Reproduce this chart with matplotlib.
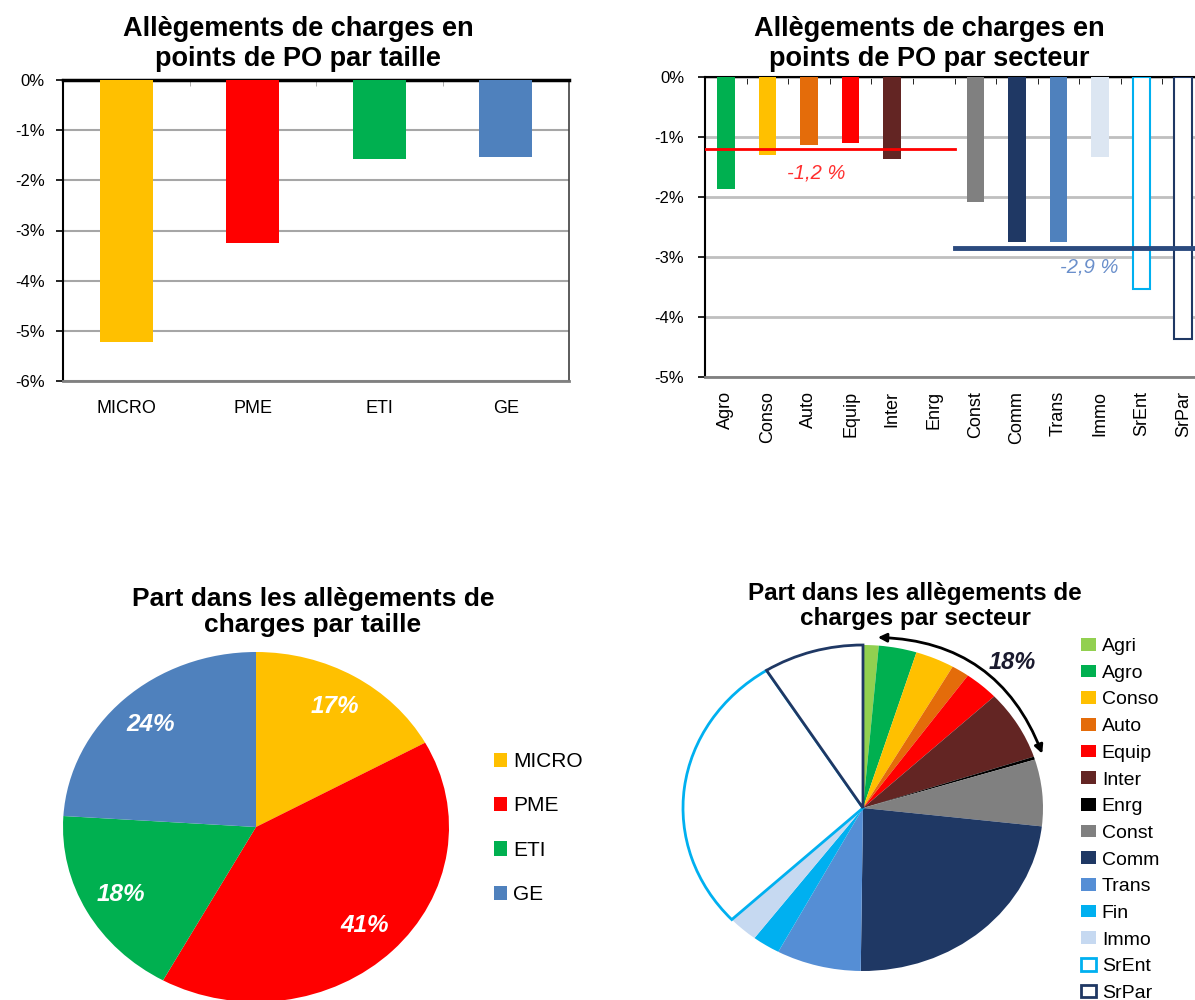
import numpy as np
import matplotlib.pyplot as plt

plt.rcParams['font.family'] = ['Liberation Sans', 'DejaVu Sans']

# --- donnees ---
tailles = ['MICRO', 'PME', 'ETI', 'GE']
points_taille = [-5.22, -3.24, -1.58, -1.53]
part_taille = [17, 41, 18, 24]
couleurs_taille = ['#FFC000', '#FF0000', '#00B050', '#4F81BD']

secteurs_barres = ['Agro', 'Conso', 'Auto', 'Equip', 'Inter', 'Enrg', 'Const',
                   'Comm', 'Trans', 'Immo', 'SrEnt', 'SrPar']
points_secteur = [-1.87, -1.30, -1.13, -1.10, -1.37, 0.0, -2.08,
                  -2.75, -2.75, -1.33, -3.53, -4.37]
couleurs_barres = ['#00B050', '#FFC000', '#E46C0A', '#FF0000', '#632523', '#000000',
                   '#808080', '#1F3864', '#4F81BD', '#DCE6F2', 'white', 'white']
moyennes = [-1.2, -2.85]
moyennes_txt = ['-1,2 %', '-2,9 %']

secteurs = ['Agri', 'Agro', 'Conso', 'Auto', 'Equip', 'Inter', 'Enrg', 'Const',
            'Comm', 'Trans', 'Fin', 'Immo', 'SrEnt', 'SrPar']
part_secteur = [1.4, 3.4, 3.5, 1.6, 3.1, 6.9, 0.3, 6.6, 23.4, 7.6, 2.5, 2.7, 28.0, 9.0]
couleurs_secteur = ['#92D050', '#00B050', '#FFC000', '#E46C0A', '#FF0000', '#632523',
                    '#000000', '#808080', '#1F3864', '#558ED5', '#00B0F0', '#C6D9F1',
                    'white', 'white']
bords = {'SrEnt': '#00B0F0', 'SrPar': '#1F3864'}

W, H = 1195, 1000
fig = plt.figure(figsize=(W / 100, H / 100), dpi=100)


def box(l, t, r, b):
    return [l / W, 1 - b / H, (r - l) / W, (b - t) / H]


# --- barres par taille ---
ax1 = fig.add_axes(box(63, 80, 569, 381))
x = np.arange(len(tailles))
ax1.bar(x, points_taille, width=0.42, color=couleurs_taille, zorder=3)
ax1.set_xlim(-0.5, len(tailles) - 0.5)
ax1.set_ylim(-6, 0)
yt = list(range(0, -7, -1))
ax1.set_yticks(yt, [f"{v}%" for v in yt])
ax1.yaxis.grid(True, color='#A6A6A6', lw=1.5)
ax1.set_axisbelow(True)
ax1.set_xticks(x, tailles)
ax1.set_xticks(x[:-1] + 0.5, minor=True)
ax1.tick_params(axis='x', which='major', length=0, pad=14, labelsize=13)
ax1.tick_params(axis='x', which='minor', top=True, bottom=False, direction='in',
                length=4, color='#A0A0A0')
ax1.tick_params(axis='y', length=5, width=1.2, pad=8, labelsize=12)
ax1.spines['top'].set(lw=2.5, color='black')
ax1.spines['left'].set(lw=1.5, color='black')
ax1.spines['right'].set(lw=1.2, color='#404040')
ax1.spines['bottom'].set(lw=2, color='#808080')

# --- barres par secteur ---
ax2 = fig.add_axes(box(705, 77, 1204, 377))
xs = np.arange(len(secteurs_barres))
barres = ax2.bar(xs, points_secteur, width=0.42, color=couleurs_barres, zorder=3)
for b, s in zip(barres, secteurs_barres):
    if s in bords:
        b.set_edgecolor(bords[s])
        b.set_linewidth(1.5)
ax2.set_xlim(-0.5, len(secteurs_barres) - 0.5)
ax2.set_ylim(-5, 0)
yt = list(range(0, -6, -1))
ax2.set_yticks(yt, [f"{v}%" for v in yt])
ax2.yaxis.grid(True, color='#BFBFBF', lw=2)
ax2.set_axisbelow(True)
ax2.set_xticks(xs, secteurs_barres, rotation=90, va='top')
ax2.set_xticks(xs[:-1] + 0.5, minor=True)
ax2.tick_params(axis='x', which='major', length=0, pad=10, labelsize=13)
ax2.tick_params(axis='x', which='minor', top=True, bottom=False, direction='in',
                length=5, color='black')
ax2.tick_params(axis='y', length=5, width=1.2, pad=10, labelsize=12)
ax2.spines['top'].set(lw=1.5, color='black')
ax2.spines['left'].set(lw=1.5, color='black')
ax2.spines['right'].set_visible(False)
ax2.spines['bottom'].set(lw=2, color='#808080')

ax2.plot([-0.5, 5.5], [moyennes[0]] * 2, color='#FF0000', lw=2, zorder=4)
ax2.plot([5.5, 11.5], [moyennes[1]] * 2, color='#2B4A7E', lw=3.5, zorder=4)
ax2.text(2.17, moyennes[0] - 0.4, moyennes_txt[0], color='#FF2F2F', style='italic',
         fontsize=14.5, ha='center', va='center', zorder=5)
ax2.text(8.75, moyennes[1] - 0.32, moyennes_txt[1], color='#6A8FCB', style='italic',
         fontsize=14.5, ha='center', va='center', zorder=5)

# --- camembert par taille ---
ax3 = fig.add_axes(box(63, 652, 449, 1002))
w3, _, pcts = ax3.pie(part_taille, colors=couleurs_taille, startangle=90, counterclock=False,
                      autopct='%.0f%%', pctdistance=0.8,
                      textprops=dict(color='white', fontsize=17.5, fontweight='bold',
                                     style='italic'),
                      wedgeprops=dict(linewidth=0))
ax3.set_aspect('auto')
ax3.set_xlim(-1, 1)
ax3.set_ylim(-1, 1)
fig.legend(w3, tailles, loc='upper left', bbox_to_anchor=(494 / W, 1 - 752 / H),
           frameon=False, fontsize=15, handlelength=0.63, handleheight=0.67,
           handletextpad=0.3, labelspacing=1.22, borderpad=0, borderaxespad=0)

# --- camembert par secteur ---
ax4 = fig.add_axes(box(683, 645, 1043, 971))
w4 = ax4.pie(part_secteur, colors=couleurs_secteur, startangle=90, counterclock=False,
             wedgeprops=dict(linewidth=0))[0]
for w, s in zip(w4, secteurs):
    if s in bords:
        w.set_edgecolor(bords[s])
        w.set_linewidth(2)
ax4.set_aspect('auto')
ax4.set_xlim(-1, 1)
ax4.set_ylim(-1, 1)
a0, a1, r = np.radians(85.5), np.radians(18.5), 1.05
ax4.annotate('', xy=(r * np.cos(a1), r * np.sin(a1)), xytext=(r * np.cos(a0), r * np.sin(a0)),
             arrowprops=dict(arrowstyle='<|-|>,head_length=0.5,head_width=0.25', color='black',
                             lw=2, connectionstyle='arc3,rad=-0.33', shrinkA=0, shrinkB=0),
             annotation_clip=False)
ax4.text(0.83, 0.89, '18%', fontsize=17, fontweight='bold', style='italic',
         color='#1A1A2E', ha='center', va='center')
fig.legend(w4, secteurs, loc='upper left', bbox_to_anchor=(1081 / W, 1 - 638 / H),
           frameon=False, fontsize=14, handlelength=0.77, handleheight=0.62,
           handletextpad=0.3, labelspacing=0.49, borderpad=0, borderaxespad=0)

# --- titres ---
fig.text(298 / W, 1 - 44 / H, 'Allègements de charges en\npoints de PO par taille',
         ha='center', va='center', fontsize=19.5, fontweight='bold', linespacing=1.15)
fig.text(929 / W, 1 - 44 / H, 'Allègements de charges en\npoints de PO par secteur',
         ha='center', va='center', fontsize=19.5, fontweight='bold', linespacing=1.15)
fig.text(313 / W, 1 - 612 / H, 'Part dans les allègements de\ncharges par taille',
         ha='center', va='center', fontsize=19, fontweight='bold', linespacing=1.1)
fig.text(915 / W, 1 - 606 / H, 'Part dans les allègements de\ncharges par secteur',
         ha='center', va='center', fontsize=17.5, fontweight='bold', linespacing=1.1)

fig.savefig('out.png', dpi=100)
